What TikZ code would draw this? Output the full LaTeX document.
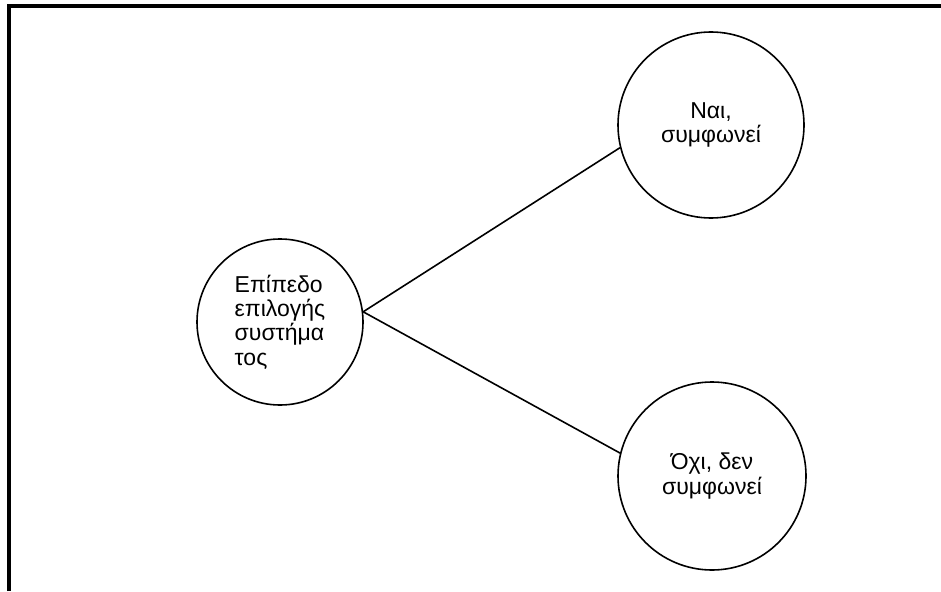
\documentclass[tikz,border=0pt]{standalone}
\usepackage{fontspec}
\setmainfont{Liberation Sans}
\begin{document}
\begin{tikzpicture}[x=1pt,y=-1pt,
  bubble/.style={draw=black,circle,line width=1.6pt,inner sep=0pt,
    font=\fontsize{23}{24.4}\selectfont},
  link/.style={draw=black,line width=1.6pt},
  frameline/.style={draw=black,line width=4pt,line join=miter}]
\useasboundingbox (0,0) rectangle (941,591);
\draw[frameline] (8.8,591) -- (8.8,6.5) -- (941,6.5);
\node[bubble,minimum size=166pt,align=left] (L) at (280,322) {Επίπεδο\\επιλογής\\συστήμα\\τος};
\node[bubble,minimum size=186pt,align=center] (T) at (711,125) {Ναι,\\συμφωνεί};
\node[bubble,minimum size=188pt,align=center] (B) at (712,476) {Όχι, δεν\\συμφωνεί};
\draw[link] (L.7) -- (T.194.6);
\draw[link] (L.7) -- (B.166);
\end{tikzpicture}
\end{document}
